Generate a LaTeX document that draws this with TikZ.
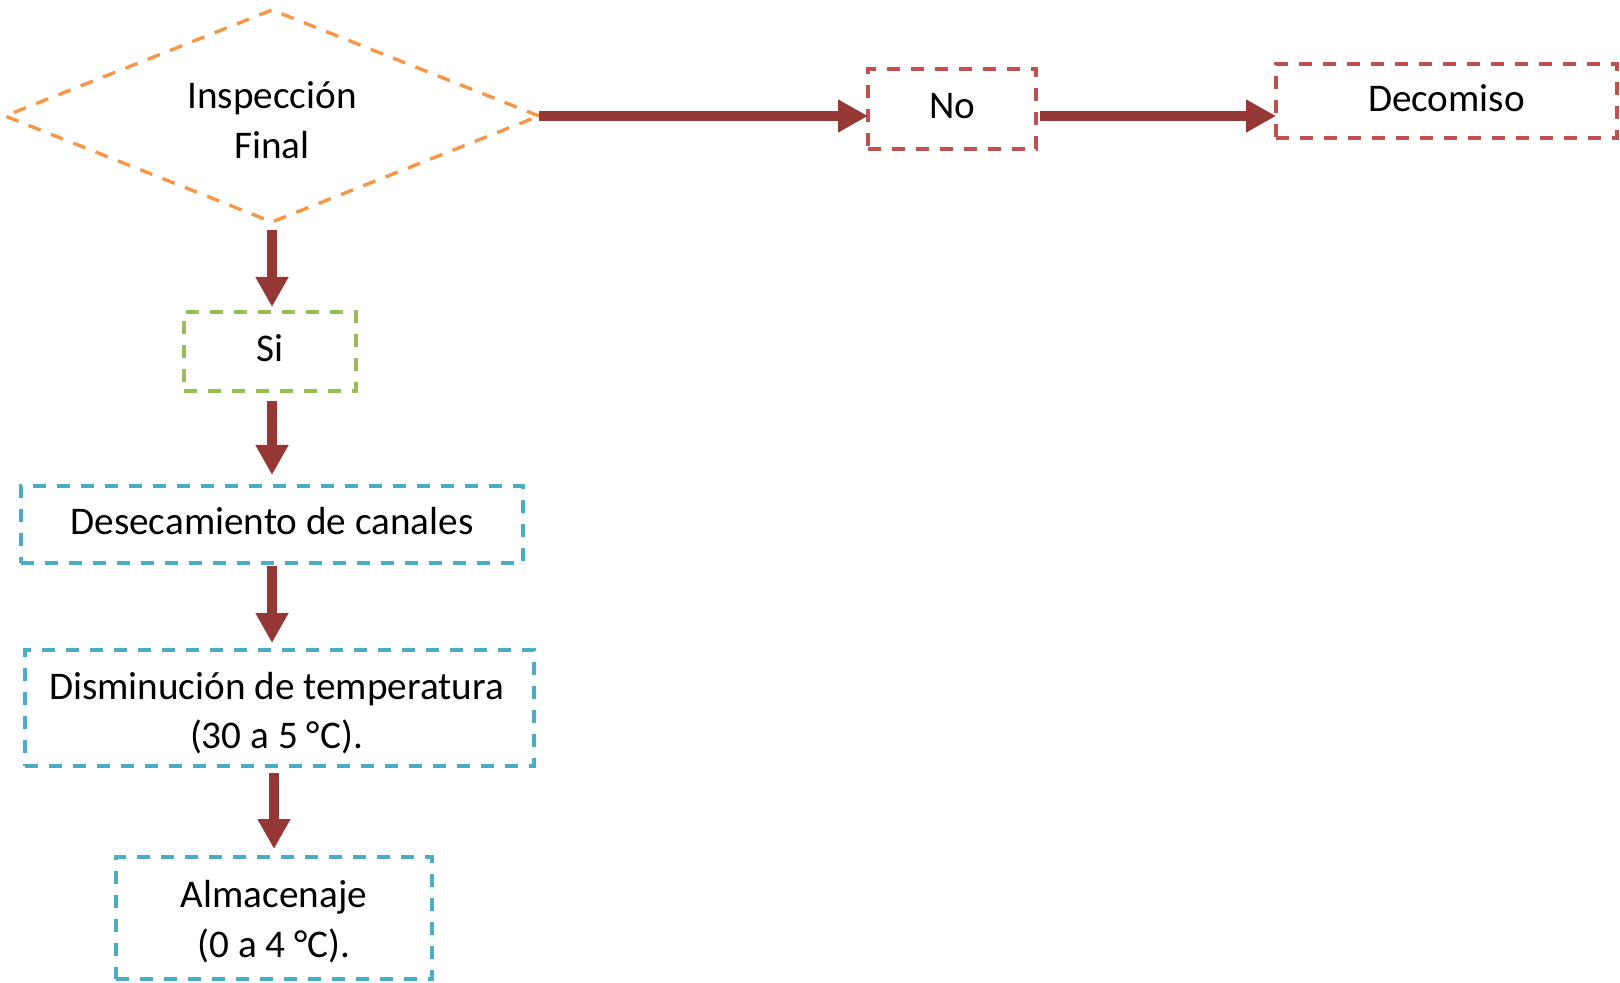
\documentclass[tikz,border=0pt]{standalone}
\usepackage{fontspec}
\setmainfont{Carlito}
\usetikzlibrary{arrows.meta,shapes.geometric,calc}
\definecolor{arrowred}{RGB}{149,55,53}
\definecolor{dorange}{RGB}{247,150,70}
\definecolor{dred}{RGB}{192,80,77}
\definecolor{dgreen}{RGB}{155,187,89}
\definecolor{dblue}{RGB}{75,172,198}
\tikzset{
  box/.style={draw, line width=1.7pt, dash pattern=on 6.5pt off 5.5pt, inner sep=0pt, outer sep=0pt},
  txt/.style={inner sep=0pt, outer sep=0pt, align=center,
    font=\fontsize{19.6pt}{24.8pt}\selectfont, text=black},
  flow/.style={draw=arrowred, line width=5pt, -{Triangle[length=15pt,width=15.5pt]}, arrowred}
}
\begin{document}
\begin{tikzpicture}[x=0.5pt,y=-0.5pt]
\useasboundingbox (0,0) rectangle (1620,983);
\node[box, draw=dorange, shape=diamond, shape aspect=2.52, minimum width=267pt, minimum height=106pt] (dia) at (272,116) {};
\node[box, draw=dred, minimum width=84pt, minimum height=40pt] (no) at (952,109) {};
\node[box, draw=dred, minimum width=170.5pt, minimum height=37pt] (dec) at (1446.5,101) {};
\node[box, draw=dgreen, minimum width=86pt, minimum height=39.5pt] (si) at (270,351.5) {};
\node[box, draw=dblue, minimum width=251pt, minimum height=38.5pt] (des) at (272,524.5) {};
\node[box, draw=dblue, minimum width=254.5pt, minimum height=58pt] (dis) at (279.5,708) {};
\node[box, draw=dblue, minimum width=158pt, minimum height=61pt] (alm) at (274,918) {};
\node[txt] (dia-t) at ($(dia)+(0,4)$) {Inspección\\Final};
\node[txt] (no-t) at ($(no)+(0,-3)$) {No};
\node[txt] (dec-t) at ($(dec)+(0,-2.5)$) {Decomiso};
\node[txt] (si-t) at ($(si)+(0,-3)$) {Si};
\node[txt] (des-t) at ($(des)+(0,-3)$) {Desecamiento de canales};
\node[txt] (dis-t) at ($(dis)+(-3,5)$) {Disminución de temperatura\\(30 a 5 °C).};
\node[txt] (alm-t) at ($(alm)+(0,3.5)$) {Almacenaje\\(0 a 4 °C).};
\draw[flow] (dia.east) -- (dia.east -| no.west);
\draw[flow, shorten <=2pt] (no.east |- dia.east) -- (dec.west |- dia.east);
\draw[flow, shorten <=4pt, shorten >=2.5pt] (dia.south) -- (dia.south |- si.north);
\draw[flow, shorten <=5pt, shorten >=5.5pt] (des.north |- si.south) -- (des.north);
\draw[flow, shorten <=1.5pt, shorten >=3.5pt] (des.south) -- (des.south |- dis.north);
\draw[flow, shorten <=3.5pt, shorten >=4pt] (alm.north |- dis.south) -- (alm.north);
\end{tikzpicture}
\end{document}
